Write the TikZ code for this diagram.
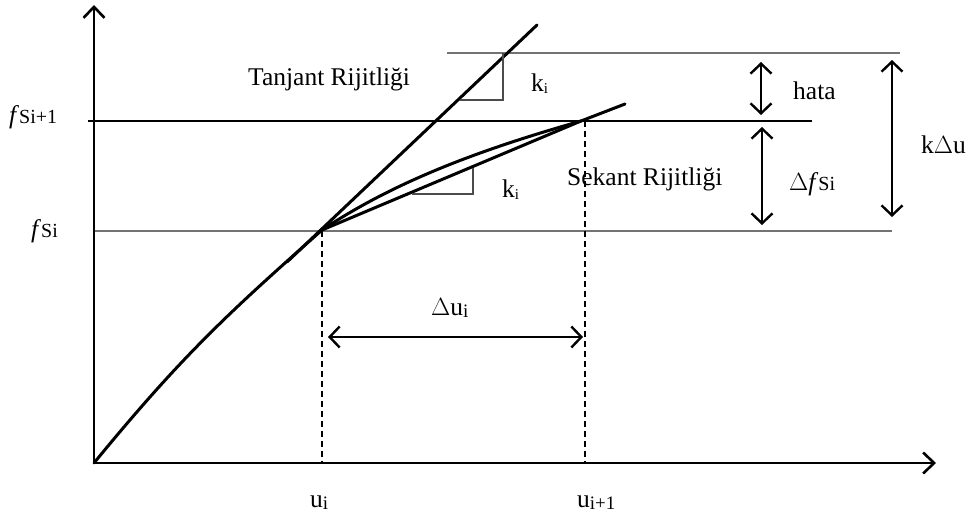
\documentclass[tikz,border=0pt]{standalone}
\usepackage{fontspec}
\setmainfont{Liberation Serif}
\usetikzlibrary{arrows.meta}
\newcommand{\smi}[1]{{\fontsize{20}{22}\selectfont #1}}
\newcommand{\subi}[1]{\raisebox{-2.5pt}{\fontsize{19}{20}\selectfont #1}}
\newcommand{\subk}{\raisebox{-2pt}{\fontsize{15}{16}\selectfont i}}
\begin{document}
\begin{tikzpicture}[x=1pt,y=-1pt,
  lbl/.style={inner sep=0pt, anchor=base west, font=\fontsize{25.5}{30}\selectfont},
  axis/.style={line width=2.8pt, -{Straight Barb[length=11pt,width=21pt,line width=2.6pt]}},
  dimarrow/.style={line width=2.4pt, {Straight Barb[length=10pt,width=21pt,line width=2.4pt]}-{Straight Barb[length=10pt,width=21pt,line width=2.4pt]}},
  curve/.style={line width=3pt, line cap=round},
  refline/.style={line width=1.6pt, black!55},
  refdark/.style={line width=1.4pt, black},
  tri/.style={line width=1.4pt, black!70},
  dashline/.style={line width=1.6pt, dash pattern=on 6pt off 4pt}
]
\useasboundingbox (0,0) rectangle (976,516);
\fill[white] (0,0) rectangle (976,516);

% key coordinates
\coordinate (O) at (94,463);
\coordinate (Pi) at (322,230);
\coordinate (Pn) at (581,121);

% reference lines
\draw[refline] (447,53) -- (900,53);
\draw[refdark] (88,121) -- (812,121);
\draw[refline] (94,231) -- (892,231);

% dashed verticals
\draw[dashline] (322,231) -- (322,463);
\draw[dashline] (585,121) -- (585,463);

% axes
\draw[axis] (O) -- (94,5);
\draw[axis] (O) -- (936,463);

% main curve
\draw[curve] (O) .. controls (184,353) and (232,310) .. (Pi)
  .. controls (400,178) and (490,147) .. (Pn) -- (625,104);
% tangent
\draw[curve] (287,262) -- (537,25);
% secant
\draw[curve] (Pi) -- (Pn);

% slope triangles
\draw[tri] (503,53) -- (503,100) -- (460,100);
\draw[tri] (473,168) -- (473,194) -- (412,194);

% dimension arrows
\draw[dimarrow] (328,337) -- (583,337);
\draw[dimarrow] (761,62) -- (761,115);
\draw[dimarrow] (762,127) -- (762,225);
\draw[dimarrow] (892,60) -- (892,217);

% labels
\node[lbl] (tanj) at (248,86) {Tanjant Rijitliği};
\node[lbl] (sek) at (567,185) {Sekant Rijitliği};
\node[lbl] (k1) at (531,92) {k\subk};
\node[lbl] (k2) at (502,197) {k\subk};
\node[lbl] (hata) at (793,100) {hata};
\node[lbl] (kdu) at (921,153) {k$\Delta$u};
\node[lbl] (dfs) at (789,190) {$\Delta$\textit{f}\smi{Si}};
\node[lbl] (fs1) at (9,124) {\textit{f}\smi{Si+1}};
\node[lbl] (fs0) at (31,237) {\textit{f}\smi{Si}};
\node[lbl] (du) at (431,315) {$\Delta$u\subi{i}};
\node[lbl] (ui) at (310,507) {u\subi{i}};
\node[lbl] (ui1) at (577,507) {u\subi{i+1}};
\end{tikzpicture}
\end{document}
